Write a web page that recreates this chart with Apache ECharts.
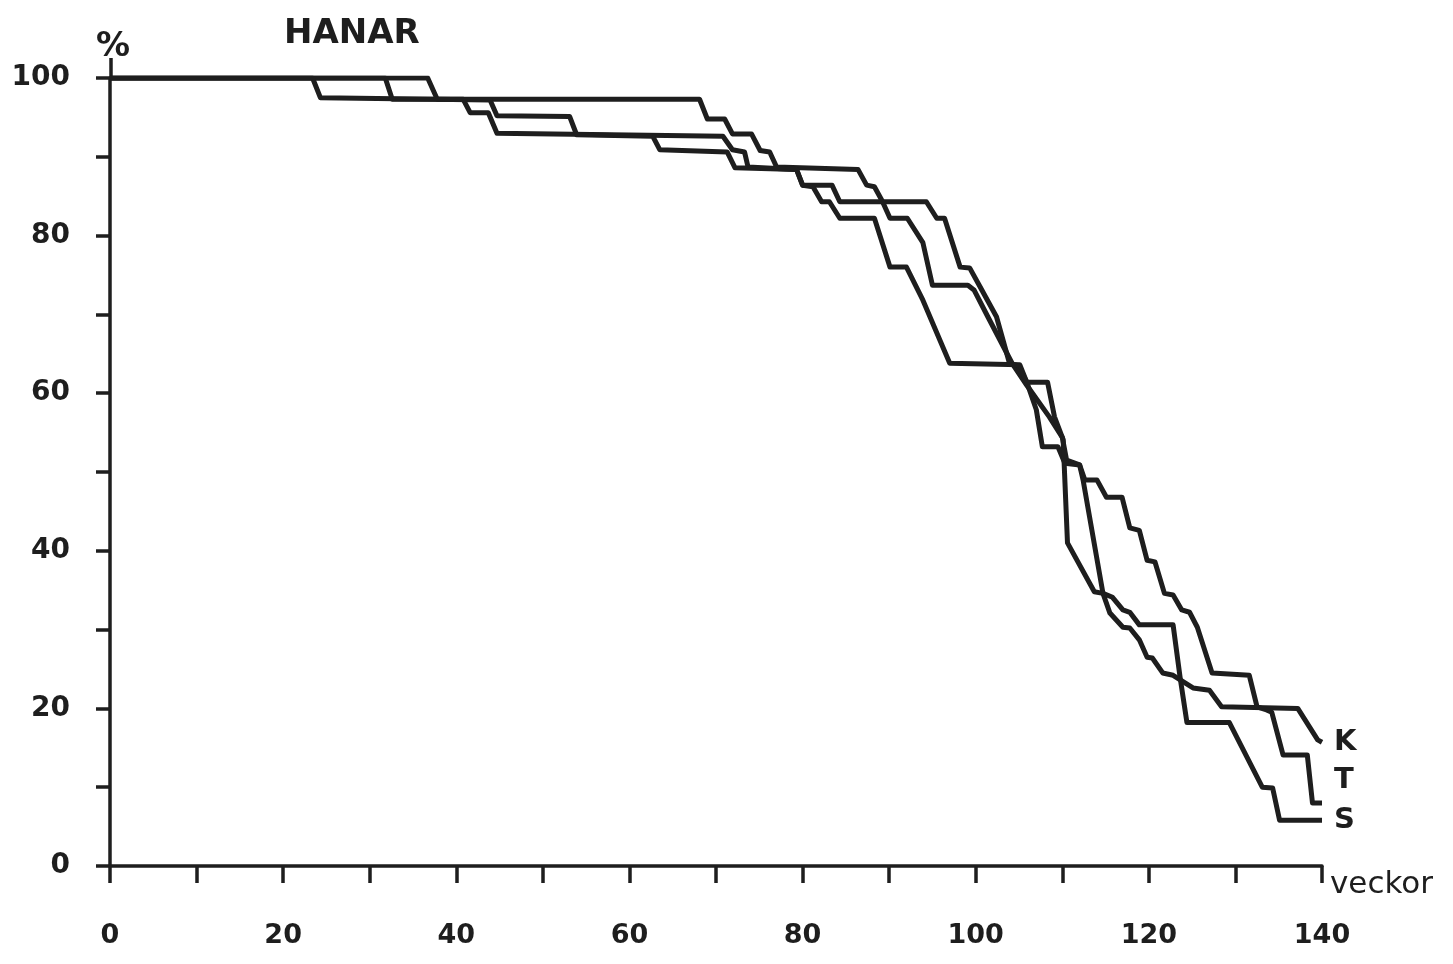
<!DOCTYPE html>
<html>
<head>
<meta charset="utf-8">
<title>HANAR</title>
<script src="https://cdn.jsdelivr.net/npm/echarts@6/dist/echarts.min.js"></script>
<style>
  html, body { margin: 0; padding: 0; background: #fff; }
  #app { width: 1453px; height: 964px; }
</style>
</head>
<body>
<div id="app"></div>
<script>
// veckor (weeks) / andel kvar (%), vertex by vertex
var kCurve = [[0,100],[36.7,100],[37.8,97.3],[68.1,97.3],[69.0,94.8],[71.0,94.8],[71.9,92.9],[74.1,92.9],[75.1,90.8],[76.2,90.6],[77.0,88.7],[86.4,88.4],[87.4,86.4],[88.3,86.2],[89.2,84.4],[90.1,82.2],[92.1,82.2],[93.9,79.1],[95.0,73.7],[99.1,73.7],[99.8,73.1],[101.4,69.7],[104.2,63.8],[105.9,61.0],[108.5,57.0],[110.0,54.4],[110.5,51.5],[112.0,50.9],[112.4,49.0],[114.7,34.6],[115.5,32.1],[117.0,30.3],[117.8,30.2],[118.9,28.7],[119.8,26.5],[120.4,26.4],[121.6,24.5],[122.8,24.2],[125.1,22.6],[127.0,22.3],[128.4,20.2],[137.2,20.0],[139.5,16.0],[140,15.7]];
var tCurve = [[0,100],[31.8,100],[32.6,97.3],[40.8,97.3],[41.6,95.6],[43.7,95.6],[44.7,93.0],[70.8,92.6],[71.9,90.9],[73.3,90.6],[73.7,88.7],[79.3,88.4],[80.0,86.4],[83.4,86.4],[84.3,84.3],[94.3,84.3],[95.5,82.2],[96.4,82.2],[98.2,76.0],[99.3,75.9],[100.5,73.5],[102.4,69.7],[103.9,63.8],[104.9,63.5],[105.9,61.4],[107.0,57.9],[107.7,53.2],[109.5,53.2],[110.3,51.1],[112.0,50.9],[112.6,49.0],[114.0,49.0],[115.1,46.8],[116.9,46.8],[117.8,42.9],[118.9,42.6],[119.8,38.8],[120.7,38.6],[121.8,34.6],[122.8,34.4],[123.8,32.5],[124.7,32.2],[125.6,30.3],[127.3,24.5],[131.6,24.2],[132.5,20.2],[133.6,19.8],[134.2,19.5],[135.5,14.1],[138.3,14.1],[138.9,8.0],[140,8.0]];
var sCurve = [[0,100],[23.4,100],[24.3,97.5],[43.9,97.2],[44.7,95.2],[53.1,95.1],[53.9,92.8],[62.7,92.6],[63.5,90.9],[71.3,90.6],[72.2,88.6],[79.3,88.4],[80.0,86.4],[81.2,86.2],[82.2,84.3],[83.1,84.3],[84.3,82.2],[88.3,82.2],[90.1,76.0],[92.0,76.0],[93.9,71.8],[97.0,63.8],[105.1,63.6],[105.9,61.4],[108.3,61.4],[109.1,57.0],[110.1,54.1],[110.6,41.0],[113.7,34.8],[114.7,34.6],[115.8,34.1],[117.0,32.5],[117.8,32.2],[118.9,30.6],[122.8,30.6],[123.6,24.0],[124.4,18.2],[129.3,18.2],[133.1,10.0],[134.3,9.9],[135.1,5.8],[140,5.8]];

var seriesNames = ['K', 'T', 'S'];
var labelShiftY = [0, -22, 0];

var ink = '#1e1e1e';
var font = '"DejaVu Sans", sans-serif';

var chart = echarts.init(document.getElementById('app'));

function curve(name, data, dy) {
    return {
        name: name,
        type: 'line',
        data: data,
        showSymbol: false,
        silent: true,
        lineStyle: { color: ink, width: 5, join: 'round' },
        endLabel: {
            show: true,
            formatter: name,
            color: ink,
            fontFamily: font,
            fontWeight: 'bold',
            fontSize: 29,
            distance: 12,
            offset: [0, dy]
        }
    };
}

chart.setOption({
    animation: false,
    backgroundColor: '#fff',
    title: {
        text: 'HANAR',
        left: 279,
        top: 12,
        textStyle: { color: ink, fontFamily: font, fontWeight: 'bold', fontSize: 34 }
    },
    grid: { left: 110, right: 131, top: 78, bottom: 98 },
    xAxis: {
        type: 'value',
        min: 0,
        max: 140,
        interval: 10,
        splitLine: { show: false },
        axisLine: { onZero: false, lineStyle: { color: ink, width: 3.5 } },
        axisTick: { length: 17, lineStyle: { color: ink, width: 3.5 } },
        axisLabel: {
            margin: 56,
            color: ink,
            fontFamily: font,
            fontWeight: 'bold',
            fontSize: 27,
            formatter: function (v) { return v % 20 === 0 ? String(v) : ''; }
        }
    },
    yAxis: {
        type: 'value',
        min: 0,
        max: 100,
        interval: 10,
        splitLine: { show: false },
        axisLine: { show: true, lineStyle: { color: ink, width: 3.5 } },
        axisTick: { show: true, length: 14, lineStyle: { color: ink, width: 3.5 } },
        axisLabel: {
            margin: 40,
            color: ink,
            fontFamily: font,
            fontWeight: 'bold',
            fontSize: 28,
            formatter: function (v) { return v % 20 === 0 ? String(v) : ''; }
        }
    },
    graphic: [
        // axis stub continuing above the 100 mark
        { type: 'line', shape: { x1: 111, y1: 58, x2: 111, y2: 79 }, style: { stroke: ink, lineWidth: 3.5 } },
        { type: 'text', left: 96, top: 30, style: { text: '%', fill: ink, font: 'bold 34px ' + font } },
        { type: 'text', left: 1330, top: 869, style: { text: 'veckor', fill: ink, font: '31px ' + font } }
    ],
    series: [
        curve(seriesNames[0], kCurve, labelShiftY[0]),
        curve(seriesNames[1], tCurve, labelShiftY[1]),
        curve(seriesNames[2], sCurve, labelShiftY[2])
    ]
});
</script>
</body>
</html>
